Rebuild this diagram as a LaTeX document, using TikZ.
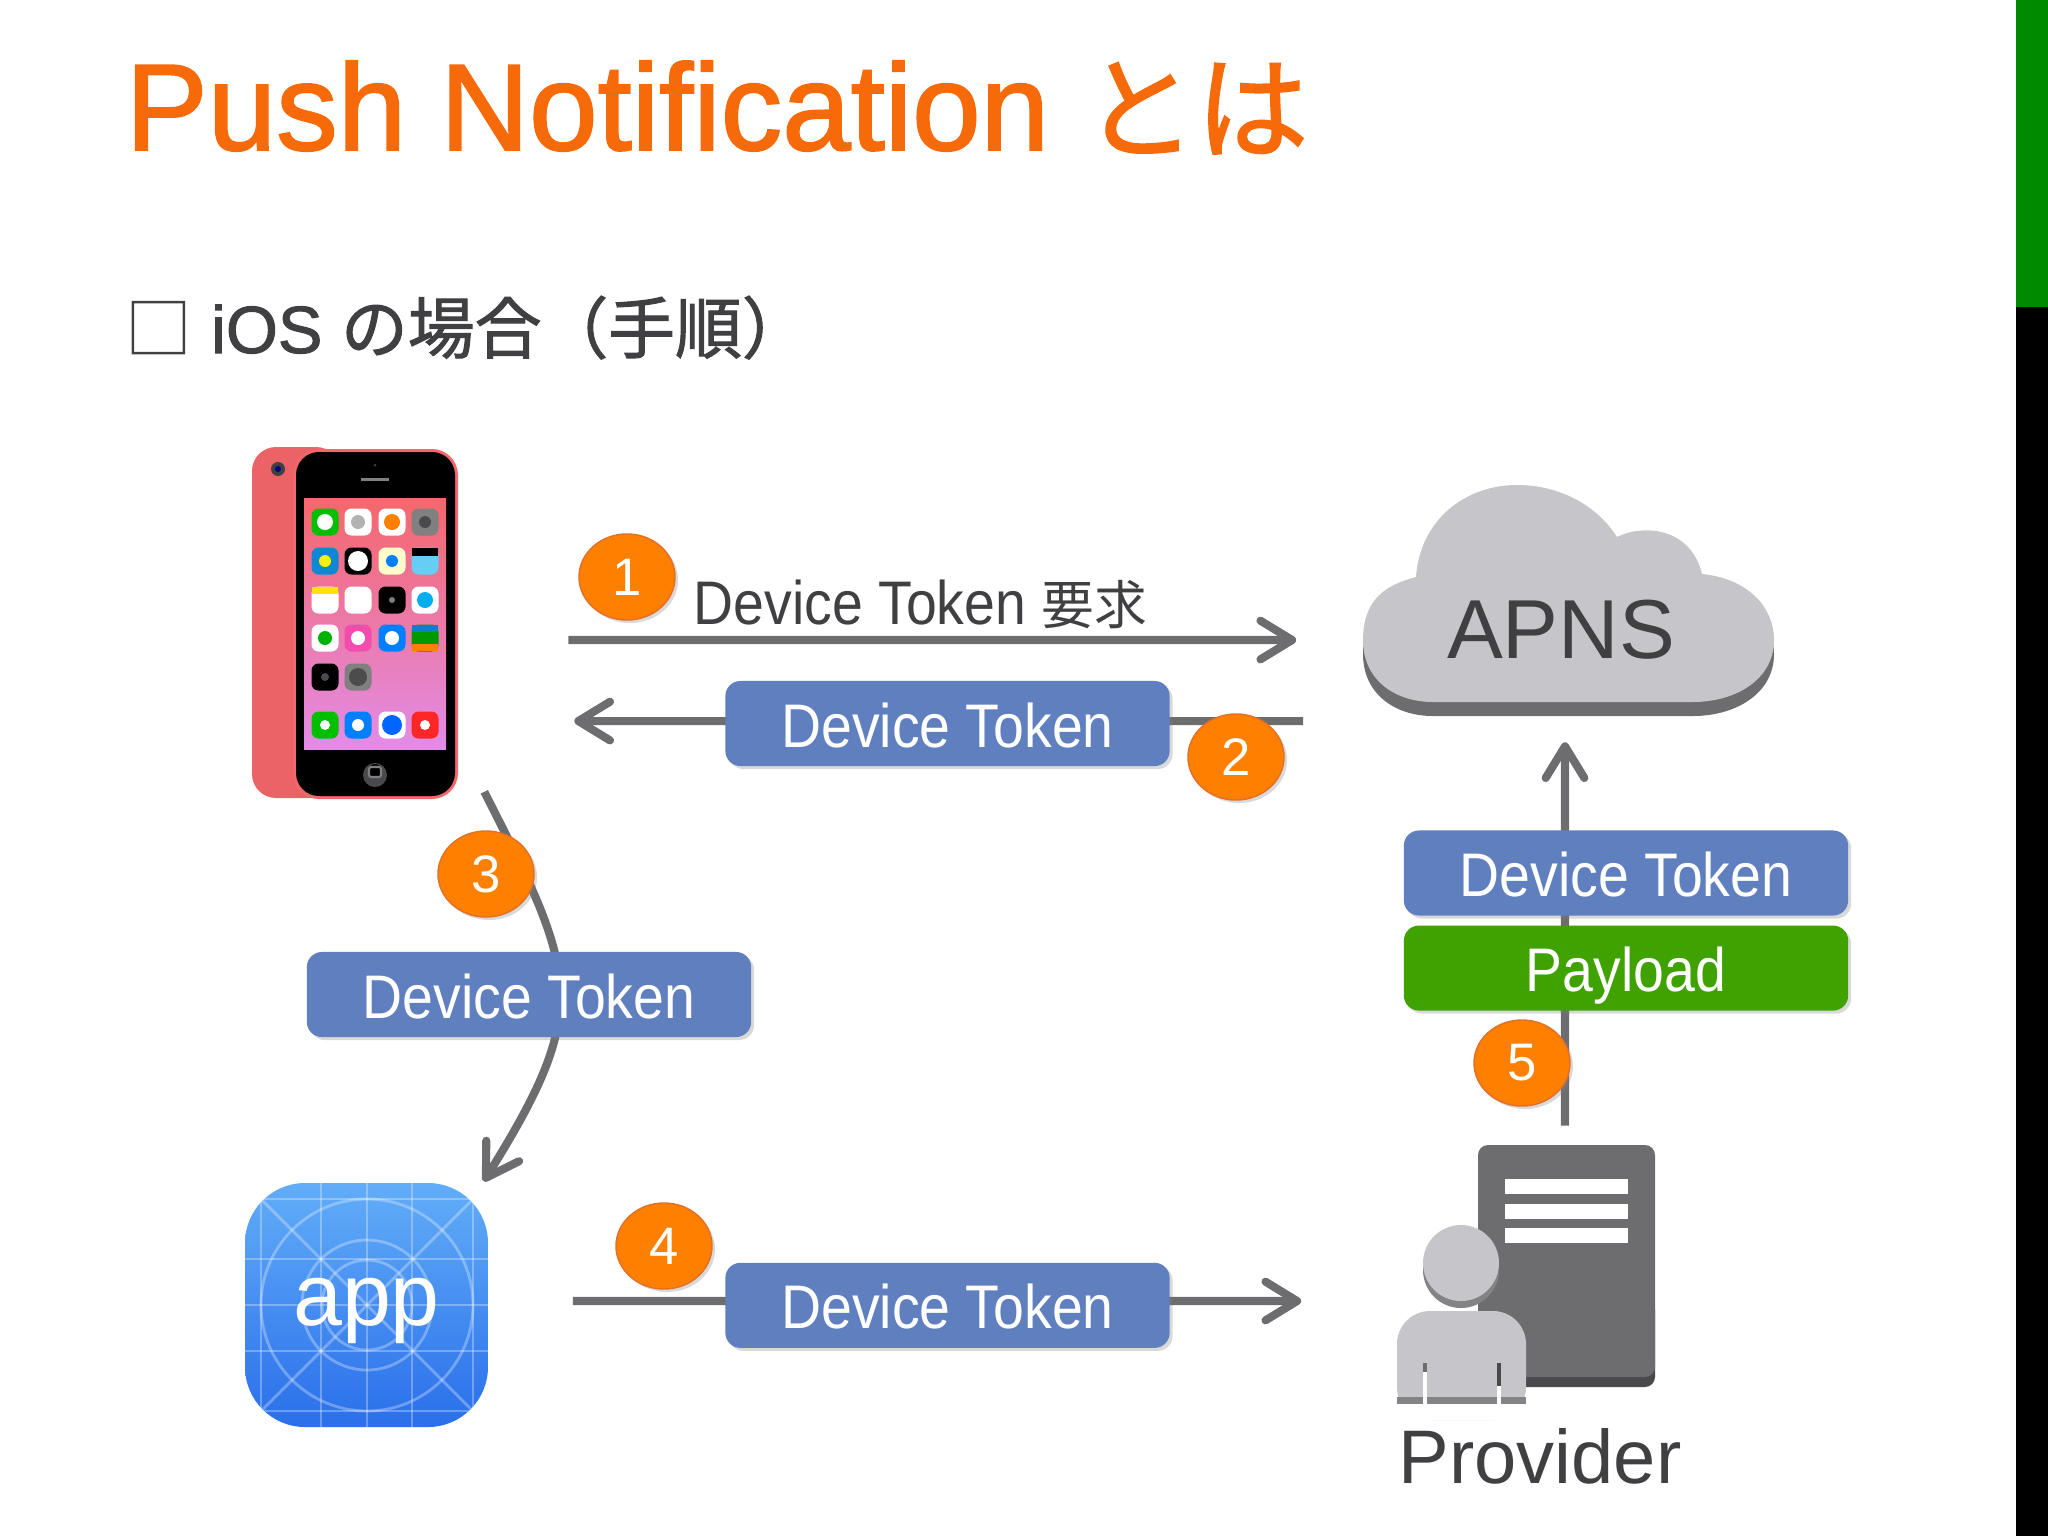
\documentclass[tikz,border=0pt]{standalone}
\usepackage{fontspec}
\usepackage{tikz}
\usetikzlibrary{arrows.meta,shapes,positioning,shadows}
\setmainfont{Liberation Sans}
\newfontfamily\jpfont{Noto Sans CJK JP}
\newfontfamily\tokenfont[FakeStretch=0.9]{Liberation Sans}
\newfontfamily\headfont[FakeBold=1.5]{Liberation Sans}
\newfontfamily\jphead[FakeBold=1.5]{Noto Sans CJK JP}
\definecolor{pnorange}{RGB}{255,127,0}
\definecolor{pnedge}{RGB}{226,112,40}
\definecolor{pntitle}{RGB}{247,106,10}
\definecolor{pnblue}{RGB}{95,127,191}
\definecolor{pngreen}{RGB}{63,162,0}
\definecolor{pnbar}{RGB}{0,138,0}
\definecolor{pnink}{RGB}{64,64,67}
\definecolor{pnarrow}{RGB}{109,109,112}
\definecolor{pnlight}{RGB}{198,197,201}
\definecolor{pndark}{RGB}{74,74,77}
\definecolor{pnpink}{RGB}{245,103,106}
\definecolor{pnscreen}{RGB}{226,140,232}
\definecolor{pnskytop}{RGB}{98,173,248}
\definecolor{pnskylow}{RGB}{42,111,234}
\tikzstyle{arrow} = [line width=2.3pt,-{Straight Barb[length=9pt,width=11pt,round]},color=pnarrow]
\tikzstyle{token} = [rectangle, rounded corners=0.15cm, minimum width=4.44cm, minimum height=0.85cm, inner sep=0pt, text centered, text height=0.6cm, text depth=0.13cm, fill=pnblue, text=white, font=\fontsize{17.5}{20}\tokenfont, drop shadow={shadow xshift=0.03cm,shadow yshift=-0.03cm,opacity=0.3}]
\tikzstyle{badge} = [ellipse, minimum width=0.96cm, minimum height=0.86cm, inner sep=0pt, fill=pnorange, draw=pnedge, text=white, font=\fontsize{15}{18}\selectfont, drop shadow={shadow xshift=0.03cm,shadow yshift=-0.03cm,opacity=0.3}]
\tikzstyle{frame} = [rectangle, inner sep=0pt]
\tikzstyle{icon} = [rounded corners=0.07cm]
\def\cloudshape{(1363,640) .. controls (1363,600) and (1385,585) .. (1416,577) .. controls (1420,520) and (1465,485) .. (1517,485) .. controls (1565,485) and (1600,510) .. (1617,537) .. controls (1640,525) and (1690,525) .. (1702,574) .. controls (1745,578) and (1774,605) .. (1774,640) .. controls (1774,680) and (1735,702) .. (1693,702) -- (1433,702) .. controls (1395,702) and (1363,680) .. (1363,640) -- cycle}
\begin{document}
\begin{tikzpicture}[x=0.01cm, y=-0.01cm, node distance=2.5cm]
\useasboundingbox (0,0) rectangle (2048,1536);
\fill[pnbar] (2016,0) rectangle (2048,307);
\fill[black] (2016,307) rectangle (2048,1536);

% Headings
\node (title) at (125,150) [anchor=base west, inner sep=0pt, text=pntitle, font=\fontsize{35}{40}\headfont] {Push Notification {\jphead\fontsize{32}{40}\selectfont とは}};
\node (subtitle) at (125,353) [anchor=base west, inner sep=0pt, text=pnink, font=\fontsize{19}{24}\headfont] {{\jpfont □} iOS {\jphead\fontsize{19}{24}\selectfont の場合（手順）}};

% Phone
\fill[pnpink!96!black, rounded corners=0.24cm] (252,447) rectangle (340,798);
\fill[pnpink, rounded corners=0.26cm] (293,449) rectangle (458,799);
\fill[black, rounded corners=0.23cm] (296,452) rectangle (455,796);
\fill[pnink] (278,469) circle (7);
\fill[blue!50!black] (278,469) circle (3);
\fill[pnink] (375,465) circle (1.5);
\fill[gray] (361,478) rectangle (389,481);
\fill[pndark] (375,775) circle (12);
\fill[black] (375,771) circle (7);
\draw[gray, line width=0.6pt, rounded corners=0.02cm] (369,767) rectangle (381,777);
\shade[top color=pnpink, middle color=pnpink!85!pnscreen, bottom color=pnscreen] (304,498) rectangle (446,749);
\foreach \x/\y/\c in {325/522/green!75!black, 358/522/white, 392/522/white, 425/522/gray,
    325/561/cyan!70!blue, 358/561/black, 392/561/yellow!20!white, 425/561/cyan!60!white,
    325/600/white, 358/600/white, 392/600/black, 425/600/white,
    325/638/white, 358/638/magenta!70!white, 392/638/blue!50!cyan, 425/638/green!60!black,
    325/677/black, 358/677/gray,
    325/725/green!75!black, 358/725/blue!50!cyan, 392/725/white, 425/725/red!80!pink} {
  \fill[icon, \c] (\x-13.5,\y-13.5) rectangle (\x+13.5,\y+13.5);
}
% Icon details
\foreach \x/\y/\r/\c in {325/522/8/white, 358/522/7/gray!60, 392/522/8/orange, 425/522/6/pndark,
    325/561/6/yellow, 358/561/10/white, 392/561/6/blue!50!cyan,
    392/600/3/gray, 425/600/8/cyan, 325/638/7/green!70!black, 358/638/7/white,
    392/638/7/white, 358/677/9/gray!60!black, 325/677/4/pndark,
    325/725/5/white, 358/725/6/white, 392/725/10/blue!60!cyan, 425/725/5/white} {
  \fill[\c] (\x,\y) circle (\r);
}
\fill[yellow!85!orange] (312,587) rectangle (338,594);
\fill[black] (412,548) rectangle (438,556);
\fill[orange] (412,644) rectangle (438,651);
\fill[cyan!60!blue] (412,625) rectangle (438,632);
\node (phone) at (355,623) [frame, minimum width=2.07cm, minimum height=3.52cm] {};

% App icon
\begin{scope}
\clip[rounded corners=0.6cm] (245,1183) rectangle (488,1427);
\shade[top color=pnskytop, bottom color=pnskylow] (245,1183) rectangle (488,1427);
\begin{scope}[draw=white, opacity=0.3, line width=0.8pt]
\foreach \gx in {261,321,367,412,473} { \draw (\gx,1183) -- (\gx,1427); }
\foreach \gy in {1199,1259,1305,1351,1411} { \draw (245,\gy) -- (488,\gy); }
\foreach \gr in {45,65,106} { \draw (367,1305) circle (\gr); }
\draw (261,1199) -- (473,1411);
\draw (473,1199) -- (261,1411);
\end{scope}
\end{scope}
\node (app) at (366.5,1305) [frame, minimum width=2.43cm, minimum height=2.44cm, text height=0.63cm, text depth=0.23cm, text=white, font=\fontsize{25}{28}\selectfont] {app};

% Cloud
\fill[pnarrow, yshift=-0.14cm] \cloudshape;
\fill[pnlight] \cloudshape;
\node (apns) at (1568.5,600) [frame, minimum width=4.11cm, minimum height=2.31cm] {};
\node (apnslabel) at (1561,630) [frame, text=pnink, font=\fontsize{23.8}{28}\selectfont] {APNS};

% Provider
\fill[pndark, rounded corners=0.1cm] (1478,1300) rectangle (1655,1387);
\fill[pnarrow, rounded corners=0.1cm] (1478,1145) rectangle (1655,1377);
\foreach \ly in {1179,1204,1228} { \fill[white] (1505,\ly) rectangle (1628,\ly+15); }
\fill[pnarrow!85!white] (1461,1270) circle (38);
\fill[pnlight] (1461,1263) circle (38);
\fill[pnlight, rounded corners=0.33cm] (1397,1420) -- (1397,1311) -- (1526,1311) -- (1526,1420) -- cycle;
\fill[white] (1397,1398) rectangle (1526,1420);
\fill[pnarrow!85!white] (1397,1397) rectangle (1526,1404);
\fill[pnarrow] (1423,1363) rectangle (1427,1372);
\fill[white] (1423,1372) rectangle (1427,1405);
\fill[pndark] (1497,1363) rectangle (1501,1386);
\fill[white] (1497,1386) rectangle (1501,1405);
\node (provider) at (1526,1275) [frame, minimum width=2.58cm, minimum height=2.59cm] {};
\node (providerlabel) at (1398,1483) [anchor=base west, inner sep=0pt, text=pnink, font=\fontsize{21.6}{28}\selectfont] {Provider};

% Connectors
\draw[arrow] ([xshift=1.09cm,yshift=-0.17cm]phone.east) -- ([xshift=-0.66cm,yshift=-0.4cm]apns.west);
\draw[arrow] ([xshift=-0.59cm,yshift=-1.21cm]apns.west) -- ([xshift=1.15cm,yshift=-0.98cm]phone.east);
\draw[arrow] ([xshift=0.25cm,yshift=0.08cm]phone.south east) to[out=-63,in=58,looseness=1.35] ([xshift=-0.05cm,yshift=0.01cm]app.north east);
\draw[arrow] ([xshift=0.84cm,yshift=0.04cm]app.east) -- ([xshift=-0.95cm,yshift=-0.26cm]provider.west);
\draw[arrow] ([xshift=0.39cm,yshift=0.19cm]provider.north) -- ([xshift=-0.035cm,yshift=-0.26cm]apns.south);

% Tokens
\node (tokenB) at (947.5,723.5) [token] {Device Token};
\node (tokenC) at (529,994.5) [token] {Device Token};
\node (tokenD) [token, below of=tokenB, node distance=5.815cm] {Device Token};
\node (tokenE) at (1626,873) [token] {Device Token};
\node (payload) [token, fill=pngreen, below of=tokenE, node distance=0.95cm] {Payload};
\node (reqlabel) at (693,624) [anchor=base west, inner sep=0pt, text=pnink, font=\fontsize{17.5}{20}\tokenfont] {Device Token {\jpfont\fontsize{15}{20}\selectfont 要求}};

% Steps
\node (stepA) at (627,577) [badge] {1};
\node (stepB) at (1236,757) [badge] {2};
\node (stepC) at (486,874) [badge] {3};
\node (stepD) at (664,1246) [badge] {4};
\node (stepE) at (1522,1063) [badge] {5};
\end{tikzpicture}
\end{document}
